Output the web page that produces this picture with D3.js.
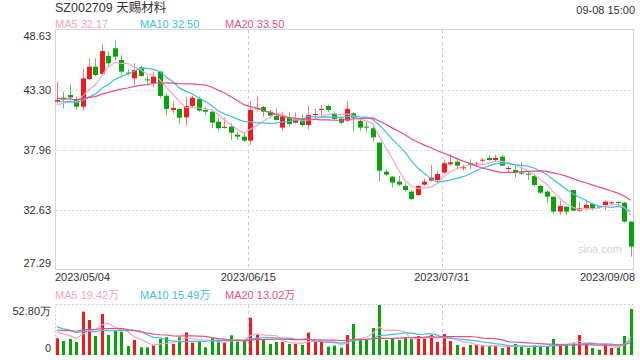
<!DOCTYPE html>
<html>
<head>
<meta charset="utf-8">
<script src="https://cdn.jsdelivr.net/npm/d3@7"></script>
<style>
html, body { margin: 0; padding: 0; background: #fff; }
svg { display: block; font-family: Arial, "Liberation Sans", "Noto Sans CJK SC", sans-serif; }
</style>
</head>
<body>
<svg id="chart" width="640" height="360"></svg>
<script>
const title = 'SZ002709 天赐材料';
const stamp = '09-08 15:00';

// daily candles 2023/05/04 .. 2023/09/08
const opens = [42.26, 42.61, 42.85, 42.49, 41.81, 44.27, 45.37, 44.72, 46.32, 47.00,
    45.96, 44.84, 44.33, 45.31, 44.24, 43.89, 44.93, 42.79, 41.52, 41.61,
    40.86, 41.87, 42.49, 41.52, 41.37, 40.48, 39.95, 40.04, 39.32, 39.15,
    38.79, 41.61, 41.78, 41.37, 40.98, 39.95, 40.87, 40.39, 40.69, 40.18,
    41.07, 41.52, 41.87, 41.16, 40.75, 40.57, 41.22, 40.54, 40.04, 39.89,
    38.61, 36.03, 35.59, 35.15, 34.76, 34.26, 33.96, 34.88, 35.24, 35.29,
    35.95, 36.69, 36.92, 36.33, 36.78, 36.66, 37.01, 37.25, 37.07, 37.37,
    36.27, 36.18, 35.97, 35.86, 35.65, 34.76, 34.26, 33.81, 32.48, 32.92,
    34.40, 32.57, 32.77, 33.16, 32.92, 33.07, 33.25, 33.34, 33.28, 31.59];
const highs = [44.04, 43.15, 43.74, 42.70, 45.22, 46.11, 46.11, 47.39, 46.70, 47.68,
    46.41, 45.13, 45.67, 45.43, 44.54, 44.93, 45.01, 42.94, 42.26, 41.66,
    42.70, 42.79, 42.70, 41.81, 41.58, 40.78, 40.86, 40.33, 39.59, 39.44,
    42.32, 42.70, 41.87, 41.52, 41.67, 41.37, 41.31, 41.31, 41.07, 41.87,
    41.67, 41.96, 41.99, 41.37, 40.81, 42.32, 41.31, 40.63, 40.48, 40.04,
    38.64, 36.24, 35.65, 35.65, 35.00, 34.40, 34.85, 35.44, 36.63, 36.12,
    37.13, 37.60, 37.28, 36.63, 37.13, 36.92, 37.22, 37.52, 37.52, 37.52,
    36.54, 36.54, 36.86, 36.03, 35.89, 34.85, 34.40, 33.81, 33.46, 32.98,
    34.43, 33.37, 33.46, 33.22, 32.98, 33.46, 33.46, 33.40, 33.37, 31.59];
const lows = [42.11, 41.66, 42.41, 41.52, 41.46, 44.18, 44.54, 44.63, 45.31, 45.96,
    44.63, 44.57, 43.74, 44.48, 43.83, 43.53, 42.55, 41.07, 41.22, 40.27,
    40.12, 41.75, 41.37, 41.04, 39.89, 39.68, 39.86, 38.85, 38.85, 38.67,
    38.41, 41.37, 40.92, 40.78, 40.57, 39.68, 40.04, 40.33, 40.04, 39.80,
    40.78, 40.98, 41.34, 40.63, 40.24, 40.39, 39.59, 39.68, 39.59, 38.70,
    35.15, 35.65, 34.64, 34.76, 34.26, 33.52, 33.87, 34.76, 35.15, 35.06,
    35.83, 36.54, 36.24, 36.12, 36.24, 36.48, 36.83, 36.98, 36.98, 36.54,
    35.95, 35.53, 35.74, 35.29, 34.70, 34.05, 33.22, 32.24, 32.18, 32.18,
    32.51, 32.45, 32.57, 32.63, 32.75, 32.63, 33.07, 32.92, 31.50, 28.48];
const closes = [42.41, 42.46, 42.64, 41.81, 44.33, 45.37, 44.63, 46.76, 45.67, 46.26,
    44.93, 44.75, 45.07, 44.54, 44.15, 44.48, 42.76, 41.61, 41.70, 40.83,
    41.87, 42.61, 41.46, 41.37, 40.39, 39.89, 40.01, 39.50, 39.15, 38.79,
    41.52, 41.70, 41.37, 41.01, 40.63, 40.93, 40.27, 40.69, 40.18, 41.07,
    41.16, 41.61, 41.52, 40.72, 40.39, 41.61, 40.84, 39.95, 39.95, 39.09,
    36.12, 35.77, 35.06, 34.88, 34.40, 33.60, 34.76, 35.15, 35.50, 35.83,
    36.78, 36.86, 36.57, 36.42, 36.60, 36.75, 37.10, 37.07, 37.25, 36.57,
    36.36, 35.95, 35.86, 35.80, 34.85, 34.17, 33.81, 32.48, 32.98, 32.48,
    32.57, 32.77, 33.07, 32.77, 32.83, 33.37, 33.31, 33.28, 31.59, 29.37];
// volume in 万 shares
const volumes = [17.6, 14.8, 16.9, 13.7, 45.8, 37.0, 20.1, 43.3, 21.1, 25.7,
    24.6, 9.5, 15.8, 8.1, 8.1, 10.2, 16.9, 18.7, 11.6, 18.7,
    23.9, 13.0, 14.1, 8.1, 18.0, 14.8, 13.0, 20.8, 14.1, 14.8,
    39.4, 21.8, 16.5, 11.6, 13.7, 13.7, 11.6, 11.6, 10.6, 23.6,
    14.1, 14.1, 8.8, 9.9, 7.7, 21.1, 32.7, 15.8, 16.5, 28.5,
    52.8, 15.8, 17.3, 15.8, 18.7, 17.3, 20.1, 17.3, 21.1, 13.7,
    22.2, 14.8, 10.6, 8.4, 10.6, 10.6, 9.5, 9.5, 9.5, 7.4,
    8.4, 11.6, 8.4, 7.4, 10.2, 9.5, 9.5, 16.9, 10.2, 11.3,
    13.0, 21.1, 11.6, 7.4, 5.6, 10.9, 7.4, 8.8, 20.1, 48.6];

// sessions before 05/04, only used to seed the moving averages
const priorCloses = [43.2, 42.9, 43.5, 42.6, 42.8, 43.1, 42.4, 42.7, 43.0, 42.2,
    42.9, 42.3, 42.6, 42.8, 42.1, 42.0, 41.6, 42.2, 41.8];
const priorVolumes = [24, 20, 27, 19, 25, 22, 26, 21, 23, 21,
    38, 31, 40, 33, 33, 29, 24, 30, 24];

const maNames = ['MA5', 'MA10', 'MA20'];
const maPeriods = [5, 10, 20];
const maColors = ['#f7a3c5', '#3ebfe6', '#ec4d84'];
const priceLegend = [32.17, 32.50, 33.50];
const volumeLegend = [19.42, 15.49, 13.02];

const priceTicks = [48.63, 43.30, 37.96, 32.63, 27.29];
const volumeTicks = [52.80, 0];
const dateTickIndex = [0, 30, 60, 89];
const dateTickLabels = ['2023/05/04', '2023/06/15', '2023/07/31', '2023/09/08'];

const upColor = '#f21b1b', downColor = '#0aa30a';
const upWick = '#f77a7a', downWick = '#5fc35f';

const left = 55, right = 634;
const priceTop = 30, priceBottom = 270;
const volTop = 305, volBottom = 355;

const svg = d3.select('#chart');

const x = d3.scaleBand().domain(d3.range(closes.length)).range([53.5, right]);
const cx = i => x(i) + x.step() / 2;
const y = d3.scaleLinear().domain([priceTicks[4], priceTicks[0]]).range([priceBottom, priceTop]);
const yv = d3.scaleLinear().domain([0, volumeTicks[0]]).range([volBottom, volTop]);

function movingAvg(values, prior, n) {
    const all = prior.concat(values);
    return values.map((v, i) => d3.mean(all.slice(prior.length + i - n + 1, prior.length + i + 1)));
}

// header
svg.append('text').attr('x', left).attr('y', 8).attr('dy', '0.35em')
    .attr('font-size', 12.5).attr('fill', '#333').text(title);
svg.append('text').attr('x', right + 1).attr('y', 10).attr('dy', '0.35em')
    .attr('text-anchor', 'end').attr('font-size', 11).attr('fill', '#333').text(stamp);

function legend(yPos, values, unit) {
    const g = svg.append('g');
    maNames.forEach((name, k) => {
        g.append('text').attr('x', left + k * 85).attr('y', yPos).attr('dy', '0.35em')
            .attr('font-size', 11).attr('fill', maColors[k])
            .text(`${name} ${values[k].toFixed(2)}${unit}`);
    });
}
legend(24, priceLegend, '');
legend(295, volumeLegend, '万');

// price panel frame + grid
svg.append('rect').attr('x', left + 0.5).attr('y', priceTop - 0.5)
    .attr('width', right - left - 1).attr('height', priceBottom - priceTop)
    .attr('fill', 'none').attr('stroke', '#d6d6d6');
svg.append('g').selectAll('line').data(priceTicks.slice(1, -1)).join('line')
    .attr('x1', left + 1).attr('x2', right - 1)
    .attr('y1', d => Math.round(y(d)) + 0.5).attr('y2', d => Math.round(y(d)) + 0.5)
    .attr('stroke', '#ddd').attr('stroke-dasharray', '2,2');

// volume panel frame
svg.append('rect').attr('x', left + 0.5).attr('y', volTop - 0.5)
    .attr('width', right - left - 1).attr('height', volBottom - volTop)
    .attr('fill', 'none').attr('stroke', '#ccc').attr('stroke-dasharray', '2,2');

// vertical date guides
const guides = dateTickIndex.slice(1, -1);
[[priceTop, priceBottom], [volTop, volBottom]].forEach(([t, b]) => {
    svg.append('g').selectAll('line').data(guides).join('line')
        .attr('x1', d => Math.round(cx(d)) - 1.5).attr('x2', d => Math.round(cx(d)) - 1.5)
        .attr('y1', t).attr('y2', b)
        .attr('stroke', '#ccc').attr('stroke-dasharray', '3,3');
});

// watermark
svg.append('text').attr('x', 622).attr('y', 249).attr('dy', '0.35em')
    .attr('text-anchor', 'end').attr('font-size', 11).attr('fill', '#d4d4d4').text('sina.com');

// axes
const yAxis = svg.append('g').attr('transform', `translate(${left},0)`)
    .call(d3.axisLeft(y).tickValues(priceTicks).tickSize(0).tickPadding(4).tickFormat(d3.format('.2f')));
yAxis.select('.domain').remove();
yAxis.selectAll('text').attr('font-size', 11).attr('fill', '#333').attr('font-family', null)
    .attr('dy', (d, i) => i === 0 ? '0.85em' : i === priceTicks.length - 1 ? '-0.3em' : '0.3em');

const vAxis = svg.append('g').attr('transform', `translate(${left},0)`)
    .call(d3.axisLeft(yv).tickValues(volumeTicks).tickSize(0).tickPadding(4)
        .tickFormat(d => d ? d.toFixed(2) + '万' : '0'));
vAxis.select('.domain').remove();
vAxis.selectAll('text').attr('font-size', 11).attr('fill', '#333').attr('font-family', null)
    .attr('dy', d => d ? '0.9em' : '-0.3em');

const xAxis = svg.append('g').attr('transform', `translate(0,${priceBottom})`)
    .call(d3.axisBottom(x).tickValues(dateTickIndex).tickSize(0).tickPadding(3)
        .tickFormat((d, i) => dateTickLabels[i]));
xAxis.select('.domain').remove();
xAxis.selectAll('.tick').attr('transform', d => `translate(${cx(d)},0)`);
xAxis.selectAll('text').attr('font-size', 11).attr('fill', '#333').attr('font-family', null)
    .attr('text-anchor', (d, i) => i === 0 ? 'start' : i === dateTickIndex.length - 1 ? 'end' : 'middle')
    .attr('x', (d, i) => i === 0 ? left - cx(d) : i === dateTickIndex.length - 1 ? right + 1 - cx(d) : -2);

// candles
const candles = d3.range(closes.length).map(i => ({
    i, o: opens[i], h: highs[i], l: lows[i], c: closes[i], v: volumes[i], up: closes[i] > opens[i]
}));

const cg = svg.append('g');
cg.selectAll('line').data(candles).join('line')
    .attr('x1', d => Math.round(cx(d.i)) + 0.5).attr('x2', d => Math.round(cx(d.i)) + 0.5)
    .attr('y1', d => y(d.h)).attr('y2', d => y(d.l))
    .attr('stroke', d => d.up ? upWick : downWick);
cg.selectAll('rect').data(candles).join('rect')
    .attr('x', d => Math.round(cx(d.i)) - 2)
    .attr('width', 5)
    .attr('y', d => y(Math.max(d.o, d.c)))
    .attr('height', d => Math.max(1, Math.abs(y(d.o) - y(d.c))))
    .attr('fill', d => d.up ? upColor : downColor);

// volume bars
svg.append('g').selectAll('rect').data(candles).join('rect')
    .attr('x', d => Math.round(cx(d.i)) - 1)
    .attr('width', 3)
    .attr('y', d => yv(d.v))
    .attr('height', d => volBottom - yv(d.v))
    .attr('fill', d => d.up ? upColor : downColor);

// moving averages
maPeriods.forEach((n, k) => {
    const pm = movingAvg(closes, priorCloses, n);
    const vm = movingAvg(volumes, priorVolumes, n);
    svg.append('path').datum(pm)
        .attr('d', d3.line().x((d, i) => cx(i)).y(d => y(d)))
        .attr('fill', 'none').attr('stroke', maColors[k]).attr('stroke-width', 1.2);
    svg.append('path').datum(vm)
        .attr('d', d3.line().x((d, i) => cx(i)).y(d => yv(d)))
        .attr('fill', 'none').attr('stroke', maColors[k]).attr('stroke-width', 1.2);
});
</script>
</body>
</html>
